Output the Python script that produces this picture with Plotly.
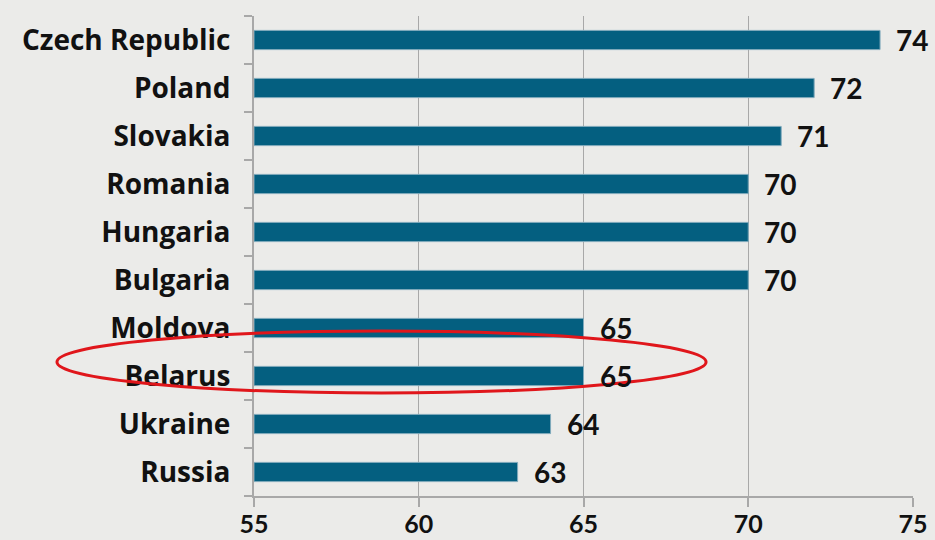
import plotly.graph_objects as go

countries = ["Czech Republic", "Poland", "Slovakia", "Romania", "Hungaria",
             "Bulgaria", "Moldova", "Belarus", "Ukraine", "Russia"]
values = [74, 72, 71, 70, 70, 70, 65, 65, 64, 63]
x_ticks = [55, 60, 65, 70, 75]
axis_start = 55

LABEL_FONT = "Open Sans"
NUM_FONT = "Lato"
BAR_COLOR = "#045f80"
GRID = "#a8a8a8"
BG = "#ebebe9"

fig = go.Figure()
fig.add_trace(go.Bar(
    y=countries, x=[v - axis_start for v in values], base=axis_start,
    orientation="h",
    marker=dict(color=BAR_COLOR, line=dict(color="#7fa9bb", width=1)),
    width=0.4, hoverinfo="skip",
))

for c, v in zip(countries, values):
    fig.add_annotation(x=v, y=c, text=f"<b>{v}</b>", showarrow=False,
                       xanchor="left", xshift=14, yshift=0,
                       font=dict(family=NUM_FONT, size=28, color="#111111"))

# highlight ellipse around Belarus (paper coordinates, not clipped)
fig.add_shape(type="circle", xref="paper", yref="paper",
              x0=-0.299, x1=0.686, y0=0.2146, y1=0.3438,
              line=dict(color="#e0161b", width=3), layer="above")

fig.update_layout(
    width=935, height=540,
    margin=dict(l=254, r=22, t=16, b=44, autoexpand=False),
    paper_bgcolor=BG, plot_bgcolor=BG,
    showlegend=False, bargap=0.6,
    font=dict(family=LABEL_FONT, color="#111111"),
)
fig.update_xaxes(
    range=[55, 75], tickvals=x_ticks, ticktext=[f"<b>{t}</b>" for t in x_ticks],
    showgrid=True, gridcolor=GRID, gridwidth=1,
    showline=True, linecolor=GRID, linewidth=2,
    ticks="outside", ticklen=9, tickcolor=GRID, tickwidth=2,
    tickfont=dict(family=NUM_FONT, size=25, color="#111111"),
    ticklabelstandoff=-4,
    zeroline=False, fixedrange=True, automargin=False,
)
fig.update_yaxes(
    categoryorder="array", categoryarray=countries, autorange="reversed",
    tickvals=countries, ticktext=[f"<b>{c}</b>" for c in countries],
    tickson="boundaries",
    showline=True, linecolor=GRID, linewidth=2,
    ticks="outside", ticklen=8, tickcolor=GRID, tickwidth=2,
    tickfont=dict(family=LABEL_FONT, size=28, color="#111111"),
    ticklabelstandoff=16,
    showgrid=False, fixedrange=True, automargin=False,
)

fig.write_html(
    "out.html",
    config={"displayModeBar": False},
    post_script="document.body.style.margin='0';document.body.style.background='%s';" % BG,
)
